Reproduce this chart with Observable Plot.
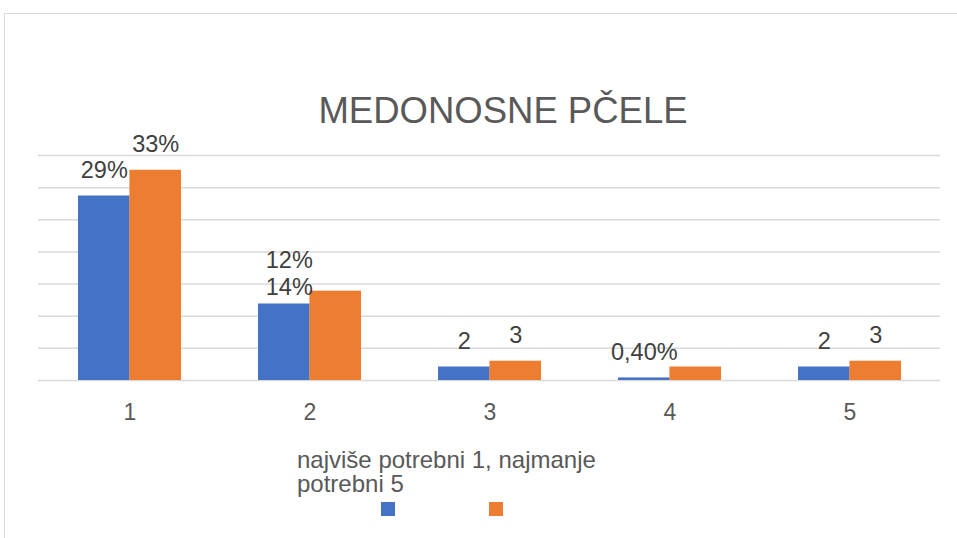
<!DOCTYPE html>
<html>
<head>
<meta charset="utf-8">
<script src="https://cdn.jsdelivr.net/npm/d3@7"></script>
<script src="https://cdn.jsdelivr.net/npm/@observablehq/plot@0.6"></script>
<style>
  html, body { margin: 0; padding: 0; background: #fff; overflow: hidden; }
  body { width: 957px; height: 538px; position: relative; font-family: "Liberation Sans", Arial, sans-serif; }
  #frame { position: absolute; left: 4px; top: 13px; width: 960px; height: 540px;
           border-top: 1.5px solid #d9d9d9; border-left: 1.5px solid #d9d9d9; }
  #chart { position: absolute; left: 0; top: 0; }
  #title { position: absolute; left: 503px; top: 93px; transform: translateX(-50%);
           font-size: 36.5px; line-height: 1; color: #595959; white-space: nowrap; }
  #xtitle { position: absolute; left: 297px; top: 448px; font-size: 24px; line-height: 24px; color: #595959; width: 320px; }
  .sw { position: absolute; top: 502px; width: 14px; height: 14px; }
</style>
</head>
<body>
<div id="frame"></div>
<div id="chart"></div>
<div id="title">MEDONOSNE PČELE</div>
<div id="xtitle">najviše potrebni 1, najmanje potrebni 5</div>
<div class="sw" style="left:381px;background:#4472C4"></div>
<div class="sw" style="left:489px;background:#ED7D31"></div>
<script>
// Data
const groups = ["1", "2", "3", "4", "5"];
const blueValues = [28.7, 11.9, 2.1, 0.4, 2.1];
const orangeValues = [32.7, 13.9, 3, 2.1, 3];
const blueLabels = ["29%", "12%", "2", "0,40%", "2"];
const orangeLabels = ["33%", "14%", "3", "", "3"];
const yTicks = [0, 5, 10, 15, 20, 25, 30, 35];

const blue = groups.map((g, i) => ({group: g, value: blueValues[i], label: blueLabels[i]}));
const orange = groups.map((g, i) => ({group: g, value: orangeValues[i], label: orangeLabels[i]}));

const W = 957, mL = 38, mR = 17, mT = 155, mB = 60;
const padIn = 0.43;
const step = (W - mL - mR) / groups.length;
const half = step * (1 - padIn) / 2;

const font = {fontSize: 23.5, fill: "#404040", fontFamily: "Liberation Sans, Arial, sans-serif"};

const chart = Plot.plot({
  width: W,
  height: 380 + mB,
  marginLeft: mL,
  marginRight: mR,
  marginTop: mT,
  marginBottom: mB,
  style: {background: "transparent", fontFamily: "Liberation Sans, Arial, sans-serif", overflow: "visible"},
  x: {domain: groups, paddingInner: padIn, paddingOuter: padIn / 2},
  y: {domain: [0, 35]},
  marks: [
    Plot.ruleY(yTicks, {stroke: "#d9d9d9", strokeWidth: 1.5}),
    Plot.barY(blue, {x: "group", y: "value", fill: "#4472C4", insetRight: half}),
    Plot.barY(orange, {x: "group", y: "value", fill: "#ED7D31", insetLeft: half}),
    Plot.text(blue.filter(d => d.group !== "2"), {x: "group", y: "value", text: "label", dx: -half / 2, dy: -18, lineAnchor: "bottom", ...font}),
    Plot.text(orange.filter(d => d.group !== "2" && d.label), {x: "group", y: "value", text: "label", dx: half / 2, dy: -18, lineAnchor: "bottom", ...font}),
    // group 2 labels were moved together above the blue bar
    Plot.text(blue.filter(d => d.group === "2"), {x: "group", y: "value", text: "label", dx: -half / 2 + 5, dy: -36, lineAnchor: "bottom", ...font}),
    Plot.text(blue.filter(d => d.group === "2"), {x: "group", y: "value", text: () => orangeLabels[1], dx: -half / 2 + 5, dy: -9, lineAnchor: "bottom", ...font}),
    Plot.axisX({tickSize: 0, tickPadding: 23, fontSize: 23, fill: "#595959", label: null}),
    Plot.axisY({ticks: [], label: null, tickSize: 0})
  ]
});
document.getElementById("chart").appendChild(chart);
</script>
</body>
</html>
